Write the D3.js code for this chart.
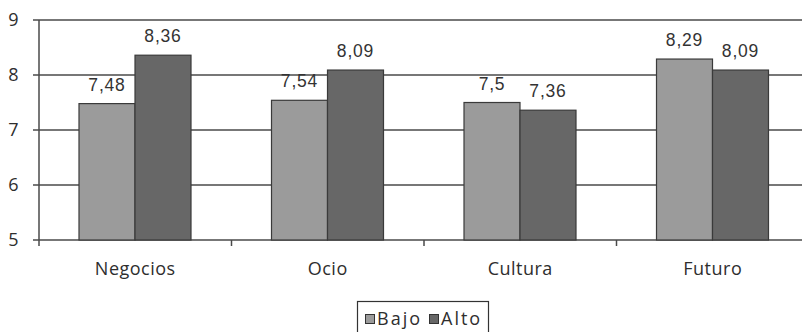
<!DOCTYPE html>
<html>
<head>
<meta charset="utf-8">
<script src="https://cdn.jsdelivr.net/npm/d3@7"></script>
<style>
  html, body { margin: 0; padding: 0; background: #fff; }
  svg { display: block; }
</style>
</head>
<body>
<svg id="chart" width="802" height="332"></svg>
<script>
// Categories and the two series (Bajo / Alto)
const categories = ["Negocios", "Ocio", "Cultura", "Futuro"];
const seriesNames = ["Bajo", "Alto"];
const bajo = [7.48, 7.54, 7.5, 8.29];
const alto = [8.36, 8.09, 7.36, 8.09];
const yTicks = [5, 6, 7, 8, 9];

const colors = { Bajo: "#9b9b9b", Alto: "#676767" };
const svg = d3.select("#chart");

const plotLeft = 39, plotRight = 809, plotTop = 20, plotBottom = 240;

const x = d3.scaleBand().domain(categories).range([plotLeft, plotRight]).padding(0);
const inner = d3.scaleBand().domain(seriesNames).range([40, 152]).padding(0);
const y = d3.scaleLinear().domain([5, 9]).range([plotBottom, plotTop]);

const numFmt = v => String(v).replace(".", ",");

// gridlines with short ticks to the left of the axis
svg.append("g").selectAll("line").data(yTicks).join("line")
  .attr("x1", plotLeft - 6).attr("x2", 802)
  .attr("y1", d => y(d)).attr("y2", d => y(d))
  .attr("stroke", "#4a4a4a").attr("stroke-width", 1.5);

// y tick labels
svg.append("g").selectAll("text").data(yTicks).join("text")
  .attr("x", 13.5).attr("y", d => y(d))
  .attr("dy", "0.36em")
  .attr("text-anchor", "middle")
  .attr("font-family", "'Open Sans', sans-serif")
  .attr("font-size", 18)
  .attr("fill", "#2e2e2e")
  .text(d => d);

// bars
const rows = categories.map((c, i) => ({ c, values: [
  { s: "Bajo", v: bajo[i] }, { s: "Alto", v: alto[i] } ] }));

const groups = svg.append("g").selectAll("g").data(rows).join("g")
  .attr("transform", d => `translate(${x(d.c)},0)`);

groups.selectAll("rect").data(d => d.values).join("rect")
  .attr("x", d => inner(d.s))
  .attr("y", d => y(d.v))
  .attr("width", inner.bandwidth())
  .attr("height", d => y(5) - y(d.v))
  .attr("fill", d => colors[d.s])
  .attr("stroke", "#3a3a3a")
  .attr("stroke-width", 1.2);

groups.selectAll("text").data(d => d.values).join("text")
  .attr("x", d => inner(d.s) + inner.bandwidth() / 2)
  .attr("y", d => y(d.v) - 13)
  .attr("text-anchor", "middle")
  .attr("font-family", "'Liberation Sans', Arial, sans-serif")
  .attr("font-size", 17.5)
  .attr("letter-spacing", 0.8)
  .attr("fill", "#333")
  .text(d => numFmt(d.v));

// y axis line
svg.append("line")
  .attr("x1", plotLeft).attr("x2", plotLeft)
  .attr("y1", plotTop).attr("y2", plotBottom + 6)
  .attr("stroke", "#4a4a4a").attr("stroke-width", 1.5);

// category separator ticks below the baseline
svg.append("g").selectAll("line").data(categories.slice(1)).join("line")
  .attr("x1", d => x(d)).attr("x2", d => x(d))
  .attr("y1", plotBottom).attr("y2", plotBottom + 6)
  .attr("stroke", "#4a4a4a").attr("stroke-width", 1.5);

// category labels
svg.append("g").selectAll("text").data(categories).join("text")
  .attr("x", d => x(d) + x.bandwidth() / 2)
  .attr("y", 275)
  .attr("text-anchor", "middle")
  .attr("font-family", "'Open Sans', sans-serif")
  .attr("font-size", 18)
  .attr("letter-spacing", 0.5)
  .attr("fill", "#2e2e2e")
  .text(d => d);

// legend
const lg = svg.append("g");
lg.append("rect")
  .attr("x", 357.5).attr("y", 301.5).attr("width", 131).attr("height", 40)
  .attr("fill", "#fff").attr("stroke", "#333").attr("stroke-width", 1.2);

const legendItems = [{ s: "Bajo", x: 365 }, { s: "Alto", x: 429 }];
legendItems.forEach(it => {
  lg.append("rect")
    .attr("x", it.x + 0.5).attr("y", 314.5).attr("width", 9).attr("height", 9)
    .attr("fill", colors[it.s]).attr("stroke", "#333").attr("stroke-width", 1);
  lg.append("text")
    .attr("x", it.x + 12).attr("y", 325)
    .attr("font-family", "'Open Sans', sans-serif")
    .attr("font-size", 18)
    .attr("letter-spacing", 2)
    .attr("fill", "#2e2e2e")
    .text(it.s);
});
</script>
</body>
</html>
